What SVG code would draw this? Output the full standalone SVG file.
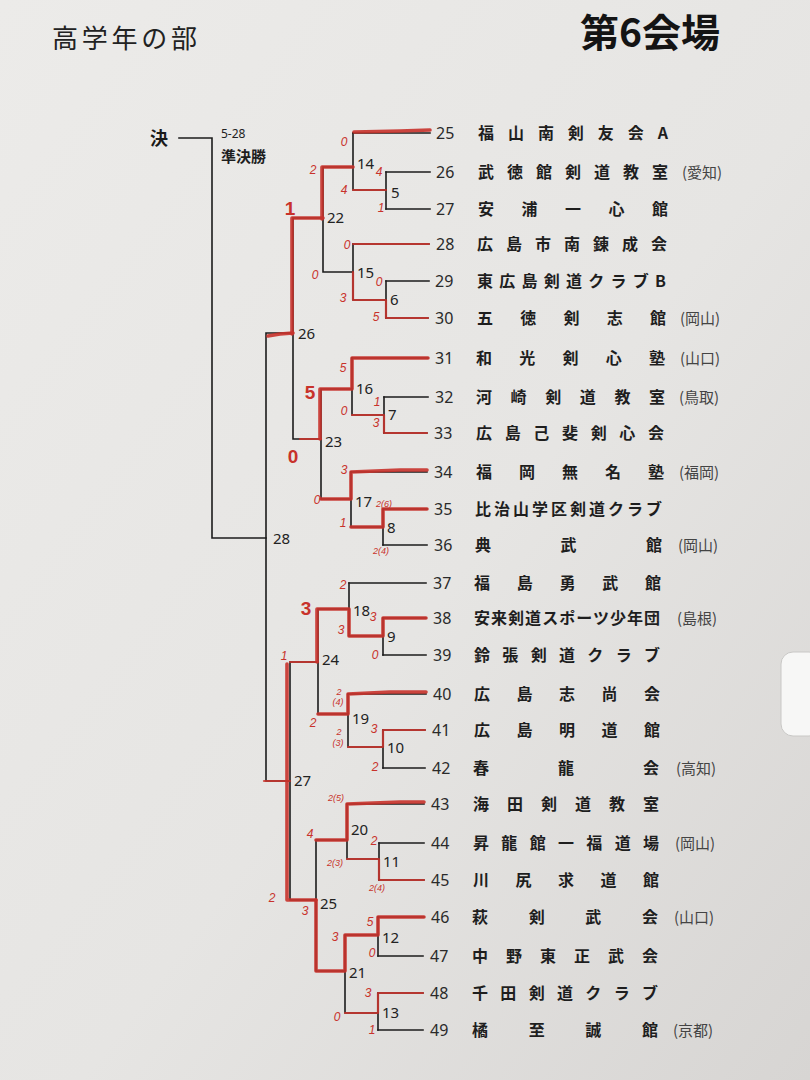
<svg xmlns="http://www.w3.org/2000/svg" width="810" height="1080" viewBox="0 0 810 1080">
<defs>
<linearGradient id="paper" x1="0" y1="0" x2="1" y2="1">
<stop offset="0" stop-color="#ecebe9"/>
<stop offset="0.55" stop-color="#e6e5e3"/>
<stop offset="1" stop-color="#d7d5d3"/>
</linearGradient>
<style>
.bk{fill:none;stroke:#1c1c1c;stroke-width:1.6;stroke-linecap:square}
.rd{fill:none;stroke:#c8322b;stroke-width:3.6;stroke-linecap:round;stroke-linejoin:round;opacity:0.9}
.rt{fill:none;stroke:#c8322b;stroke-width:2.2;stroke-linecap:round;stroke-linejoin:round;opacity:0.85}
.nm{font-family:"Noto Sans CJK JP","Noto Sans",sans-serif;font-size:16px;font-weight:700;fill:#1e1e1e}
.pf{font-family:"Noto Sans CJK JP","Noto Sans",sans-serif;font-size:15px;font-weight:400;fill:#444}
.no{font-family:"Noto Sans","Noto Sans CJK JP",sans-serif;font-size:16px;fill:#2a2a2a}
.mn{font-family:"Noto Sans","Noto Sans CJK JP",sans-serif;font-size:15px;fill:#222}
.sc{font-family:"Liberation Sans",sans-serif;font-style:italic;font-size:12px;fill:#c8322b;text-anchor:middle}
.sm{font-family:"Liberation Sans",sans-serif;font-style:italic;font-size:9px;fill:#c8322b;text-anchor:middle}
.big{font-family:"Liberation Sans",sans-serif;font-weight:700;font-size:19px;fill:#c8322b;text-anchor:middle}
</style>
</defs>
<rect width="810" height="1080" fill="url(#paper)"/>
<rect x="781" y="652" width="40" height="84" rx="12" fill="#f7f7f6" stroke="#c9c8c6" stroke-width="1"/>

<g id="header">
<text x="52" y="48" font-family="Noto Sans CJK JP, sans-serif" font-size="26" font-weight="400" fill="#222" textLength="145" lengthAdjust="spacing">高学年の部</text>
<text x="580" y="47" font-family="Noto Sans CJK JP, sans-serif" font-size="39" font-weight="700" fill="#141414">第6会場</text>
</g>

<g id="final">
<text x="150" y="145" font-family="Noto Sans CJK JP, sans-serif" font-size="18" font-weight="700" fill="#1a1a1a">決</text>
<text x="221" y="138" font-family="Noto Sans, sans-serif" font-size="12" fill="#222">5-28</text>
<text x="221" y="162" font-family="Noto Sans CJK JP, sans-serif" font-size="15" font-weight="700" fill="#1e1e1e">準決勝</text>
</g>

<g id="connectors">
<path class="bk" d="M179,138 H212 V538 H266"/>
<path class="bk" d="M266,333 V781 M266,333 H293 M266,781 H290"/>
<path class="bk" d="M293,218 V439 M293,218 H323 M293,439 H321"/>
<path class="bk" d="M290,662 V900 M290,662 H318 M290,900 H316"/>
<path class="bk" d="M323,167 V272 M323,167 H353 M323,272 H353"/>
<path class="bk" d="M321,389 V499 M321,389 H352 M321,499 H351"/>
<path class="bk" d="M318,609 V714 M318,609 H349 M318,714 H348"/>
<path class="bk" d="M316,840 V971 M316,840 H347 M316,971 H345"/>
<path class="bk" d="M353,133 V190 H386 M353,244 V300 H386"/>
<path class="bk" d="M352,358 V415 H384 M351,472 V527 H383"/>
<path class="bk" d="M349,583 V636 H383 M348,694 V747 H383"/>
<path class="bk" d="M347,804 V859 H379 M345,935 V1013 M345,935 H378 M345,1013 H378"/>
<path class="bk" d="M386,172 V209 M386,281 V318 M384,397 V433 M383,509 V545 M383,618 V655 M383,730 V768 M379,843 V880 M378,917 V956 M378,993 V1030"/>
<path class="bk" d="M353,133 H430 M386,172 H430 M386,209 H430 M353,244 H429 M386,281 H429 M386,318 H428 M352,358 H428 M384,397 H428 M384,433 H427 M351,472 H427 M383,509 H427 M383,545 H427 M349,583 H426 M383,618 H426 M383,655 H426 M348,694 H426 M383,730 H425 M383,768 H425 M347,804 H424 M379,843 H424 M379,880 H424 M378,917 H424 M378,956 H423 M378,993 H423 M378,1030 H423"/>
</g>

<g id="match-labels" class="mn">
<text x="391" y="198">5</text><text x="357" y="169">14</text><text x="390" y="305">6</text><text x="357" y="278">15</text>
<text x="327" y="223">22</text><text x="298" y="339">26</text>
<text x="388" y="420">7</text><text x="356" y="394">16</text><text x="387" y="533">8</text><text x="355" y="507">17</text>
<text x="325" y="447">23</text><text x="273" y="544">28</text>
<text x="387" y="642">9</text><text x="353" y="616">18</text><text x="387" y="753">10</text><text x="352" y="724">19</text>
<text x="322" y="665">24</text><text x="294" y="786">27</text>
<text x="351" y="835">20</text><text x="383" y="867">11</text><text x="382" y="943">12</text><text x="382" y="1018">13</text>
<text x="349" y="978">21</text><text x="320" y="909">25</text>
</g>

<g id="annotations">
<path class="rd" d="M354,132 L400,131 L430,130"/>
<path class="rt" d="M353,190 H386"/>
<path class="rd" d="M322,219 V167 H353"/>
<path class="rd" d="M292,334 V218 H323"/>
<path class="rd" d="M268,336 L280,334 L293,333"/>
<path class="rt" d="M353,244 H429"/>
<path class="rt" d="M353,272 V300 H386 V318 H428"/>
<path class="rt" d="M300,439 H321"/>
<path class="rd" d="M320,439 V389 H352 V358 H428"/>
<path class="rt" d="M352,415 H384 V433 H427"/>
<path class="rd" d="M321,499 H351 V472 L400,470 H427"/>
<path class="rd" d="M351,527 H383 V509 H427"/>
<path class="rd" d="M317,662 V609 H349 V636 H383 V618 H426"/>
<path class="rt" d="M290,662 H318"/>
<path class="rd" d="M318,714 H348 V694 L390,692 H426"/>
<path class="rt" d="M348,747 H383 V730 H425"/>
<path class="rt" d="M264,781 H290"/>
<path class="rd" d="M287,664 V900 H316"/>
<path class="rd" d="M316,900 V971 H345 V935 H378 V917 H424"/>
<path class="rd" d="M316,840 H347 V804 L400,802 H424"/>
<path class="rt" d="M347,859 H379 V880 H424"/>
<path class="rt" d="M345,1013 H378 V993 H423"/>
</g>

<g id="scores">
<text class="sc" x="344" y="146">0</text><text class="sc" x="313" y="174">2</text><text class="sc" x="344" y="194">4</text>
<text class="sc" x="379" y="176">4</text><text class="sc" x="381" y="212">1</text><text class="big" x="290" y="215">1</text>
<text class="sc" x="347" y="249">0</text><text class="sc" x="315" y="279">0</text><text class="sc" x="379" y="286">0</text>
<text class="sc" x="343" y="302">3</text><text class="sc" x="376" y="321">5</text>
<text class="sc" x="343" y="372">5</text><text class="big" x="310" y="399">5</text><text class="sc" x="344" y="415">0</text>
<text class="sc" x="377" y="406">1</text><text class="sc" x="376" y="427">3</text><text class="big" x="293" y="463">0</text>
<text class="sc" x="344" y="474">3</text><text class="sc" x="317" y="504">0</text><text class="sm" x="384" y="507">2(6)</text>
<text class="sc" x="343" y="527">1</text><text class="sm" x="381" y="554">2(4)</text>
<text class="sc" x="343" y="589">2</text><text class="big" x="306" y="615" font-size="15">3</text><text class="sc" x="373" y="621">3</text>
<text class="sc" x="341" y="634">3</text><text class="sc" x="375" y="659">0</text><text class="sc" x="284" y="660">1</text>
<text class="sm" x="339" y="695">2</text><text class="sm" x="338" y="705">(4)</text><text class="sc" x="313" y="727">2</text>
<text class="sm" x="339" y="735">2</text><text class="sm" x="338" y="746">(3)</text><text class="sc" x="374" y="733">3</text>
<text class="sc" x="375" y="771">2</text>
<text class="sm" x="336" y="801">2(5)</text><text class="sc" x="310" y="838">4</text><text class="sc" x="374" y="845">2</text>
<text class="sm" x="335" y="866">2(3)</text><text class="sm" x="377" y="891">2(4)</text><text class="sc" x="272" y="902">2</text>
<text class="sc" x="305" y="915">3</text><text class="sc" x="370" y="926">5</text><text class="sc" x="335" y="941">3</text>
<text class="sc" x="372" y="957">0</text><text class="sc" x="368" y="997">3</text><text class="sc" x="337" y="1021">0</text>
<text class="sc" x="372" y="1034">1</text>
</g>

<g id="team-25"><text class="no" x="436" y="139">25</text><text class="nm" x="478" y="139" textLength="190" lengthAdjust="spacing">福山南剣友会A</text></g>
<g id="team-26"><text class="no" x="436" y="178">26</text><text class="nm" x="478" y="178" textLength="190" lengthAdjust="spacing">武徳館剣道教室</text><text class="pf" x="682" y="178">(愛知)</text></g>
<g id="team-27"><text class="no" x="436" y="215">27</text><text class="nm" x="478" y="215" textLength="190" lengthAdjust="spacing">安浦一心館</text></g>
<g id="team-28"><text class="no" x="436" y="250">28</text><text class="nm" x="477" y="250" textLength="190" lengthAdjust="spacing">広島市南錬成会</text></g>
<g id="team-29"><text class="no" x="435" y="287">29</text><text class="nm" x="477" y="287" textLength="189" lengthAdjust="spacing">東広島剣道クラブB</text></g>
<g id="team-30"><text class="no" x="435" y="324">30</text><text class="nm" x="477" y="324" textLength="189" lengthAdjust="spacing">五徳剣志館</text><text class="pf" x="680" y="324">(岡山)</text></g>
<g id="team-31"><text class="no" x="435" y="364">31</text><text class="nm" x="476" y="364" textLength="189" lengthAdjust="spacing">和光剣心塾</text><text class="pf" x="680" y="364">(山口)</text></g>
<g id="team-32"><text class="no" x="435" y="403">32</text><text class="nm" x="476" y="403" textLength="189" lengthAdjust="spacing">河崎剣道教室</text><text class="pf" x="679" y="403">(鳥取)</text></g>
<g id="team-33"><text class="no" x="434" y="439">33</text><text class="nm" x="476" y="439" textLength="188" lengthAdjust="spacing">広島己斐剣心会</text></g>
<g id="team-34"><text class="no" x="434" y="478">34</text><text class="nm" x="476" y="478" textLength="188" lengthAdjust="spacing">福岡無名塾</text><text class="pf" x="679" y="478">(福岡)</text></g>
<g id="team-35"><text class="no" x="434" y="515">35</text><text class="nm" x="475" y="515" textLength="187" lengthAdjust="spacing">比治山学区剣道クラブ</text></g>
<g id="team-36"><text class="no" x="434" y="551">36</text><text class="nm" x="475" y="551" textLength="187" lengthAdjust="spacing">典武館</text><text class="pf" x="678" y="551">(岡山)</text></g>
<g id="team-37"><text class="no" x="433" y="589">37</text><text class="nm" x="474" y="589" textLength="187" lengthAdjust="spacing">福島勇武館</text></g>
<g id="team-38"><text class="no" x="433" y="624">38</text><text class="nm" x="474" y="624" textLength="186" lengthAdjust="spacing">安来剣道スポーツ少年団</text><text class="pf" x="677" y="624">(島根)</text></g>
<g id="team-39"><text class="no" x="433" y="661">39</text><text class="nm" x="474" y="661" textLength="186" lengthAdjust="spacing">鈴張剣道クラブ</text></g>
<g id="team-40"><text class="no" x="433" y="700">40</text><text class="nm" x="474" y="700" textLength="186" lengthAdjust="spacing">広島志尚会</text></g>
<g id="team-41"><text class="no" x="432" y="736">41</text><text class="nm" x="474" y="736" textLength="186" lengthAdjust="spacing">広島明道館</text></g>
<g id="team-42"><text class="no" x="432" y="774">42</text><text class="nm" x="473" y="774" textLength="186" lengthAdjust="spacing">春龍会</text><text class="pf" x="676" y="774">(高知)</text></g>
<g id="team-43"><text class="no" x="431" y="810">43</text><text class="nm" x="473" y="810" textLength="186" lengthAdjust="spacing">海田剣道教室</text></g>
<g id="team-44"><text class="no" x="431" y="849">44</text><text class="nm" x="473" y="849" textLength="186" lengthAdjust="spacing">昇龍館一福道場</text><text class="pf" x="675" y="849">(岡山)</text></g>
<g id="team-45"><text class="no" x="431" y="886">45</text><text class="nm" x="473" y="886" textLength="186" lengthAdjust="spacing">川尻求道館</text></g>
<g id="team-46"><text class="no" x="431" y="923">46</text><text class="nm" x="472" y="923" textLength="186" lengthAdjust="spacing">萩剣武会</text><text class="pf" x="674" y="923">(山口)</text></g>
<g id="team-47"><text class="no" x="430" y="962">47</text><text class="nm" x="472" y="962" textLength="186" lengthAdjust="spacing">中野東正武会</text></g>
<g id="team-48"><text class="no" x="430" y="999">48</text><text class="nm" x="472" y="999" textLength="186" lengthAdjust="spacing">千田剣道クラブ</text></g>
<g id="team-49"><text class="no" x="430" y="1036">49</text><text class="nm" x="472" y="1036" textLength="186" lengthAdjust="spacing">橘至誠館</text><text class="pf" x="673" y="1036">(京都)</text></g>
</svg>
